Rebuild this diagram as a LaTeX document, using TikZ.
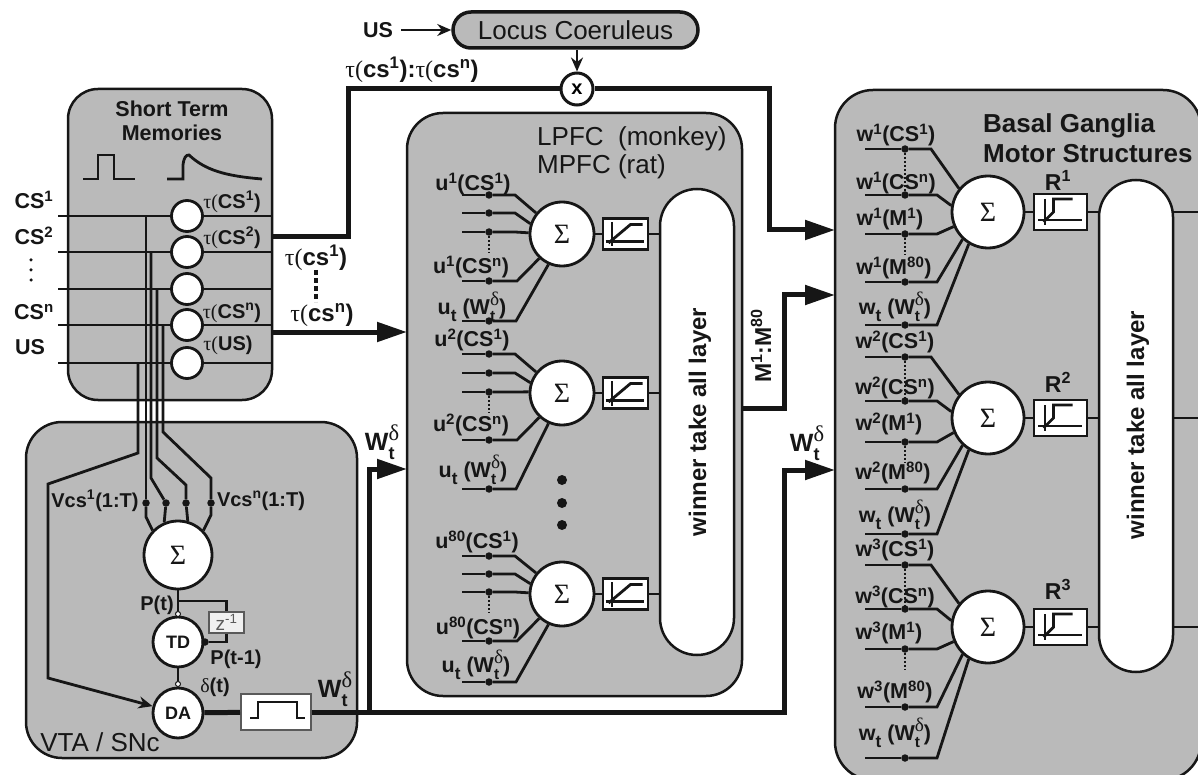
\documentclass[tikz,border=0pt]{standalone}
\usepackage{fontspec}
\setmainfont{Liberation Sans}
\newfontfamily\serifgk{Liberation Serif}
\usetikzlibrary{arrows.meta}
\definecolor{area}{RGB}{186, 186, 186}
\definecolor{ink}{RGB}{22, 22, 22}
\definecolor{soft}{RGB}{90, 90, 90}
\newcommand{\sps}[1]{\textsuperscript{#1}}
\newcommand{\gtau}{{\serifgk\mdseries τ(}}
\newcommand{\gdel}{{\serifgk\mdseries δ}}
\newcommand{\subt}{\raisebox{-0.32em}{\scalebox{0.8}{t}}}
\newcommand{\Wtd}{W\rlap{\raisebox{-0.34em}{\scalebox{0.72}{t}}}\raisebox{0.42em}{\scalebox{0.9}{\gdel}}}

\begin{document}
\begin{tikzpicture}[
   x=1pt, y=-1pt,
   region/.style={rectangle, draw=ink, fill=area, line width=2.5, inner sep=0},
   pill/.style={rectangle, draw=ink, fill=white, line width=2.5, inner sep=0,
                minimum width=74, rounded corners=37},
   sumcirc/.style={circle, draw=ink, fill=white, line width=2.8, inner sep=0,
                   text=ink, font={\fontsize{28}{28}\selectfont\serifgk}},
   smallcirc/.style={circle, draw=ink, fill=white, line width=2.8, inner sep=0,
                     text=ink, font={\fontsize{18}{18}\selectfont\bfseries}},
   rampbox/.style={rectangle, draw=ink, fill=white, line width=2.5, inner sep=0},
   jdot/.style={circle, fill=ink, inner sep=0, minimum size=7.5},
   odot/.style={circle, draw=ink, fill=white, line width=1, inner sep=0, minimum size=5},
   bigdot/.style={circle, fill=ink, inner sep=0, minimum size=10},
   wire/.style={draw=ink, line width=2.8},
   dotwire/.style={draw=ink, line width=2, dash pattern=on 2pt off 2pt},
   thick wire/.style={draw=ink, line width=5},
   boldlab/.style={inner sep=0, text=ink, font={\fontsize{21.5}{21.5}\selectfont\bfseries}},
   taulab/.style={inner sep=0, text=ink, font={\fontsize{20}{20}\selectfont\bfseries}},
   cslab/.style={inner sep=0, text=ink, font={\fontsize{24}{24}\selectfont\bfseries}},
   plainlab/.style={inner sep=0, text=ink, align=left, font={\fontsize{26}{28}\selectfont}},
   toplab/.style={inner sep=0, text=ink, font={\fontsize{26}{26}\selectfont\bfseries}},
   widelab/.style={inner sep=0, text=ink, font={\fontsize{25}{25}\selectfont\bfseries}},
   wtalab/.style={inner sep=0, text=ink, rotate=90, font={\fontsize{24}{24}\selectfont\bfseries}},
   >={Triangle[length=30pt, width=19pt]}
  ]
  \useasboundingbox (0, 0) rectangle (1198, 775);
  \clip (0, 0) rectangle (1198, 775);

  % Regions
  \node (STM) at (170, 244.5) [region, minimum width=204, minimum height=311, rounded corners=30] {};
  \node (VTA) at (191.5, 590) [region, minimum width=331, minimum height=336, rounded corners=36] {};
  \node (LPFC) at (574.5, 404.5) [region, minimum width=335, minimum height=583, rounded corners=36] {};
  \node (BG) at (1018, 435) [region, minimum width=366, minimum height=690, rounded corners=38] {};
  \node (LW) at (697, 422) [pill, minimum height=466] {};
  \node (BW) at (1136, 426) [pill, minimum height=492] {};
  \node (LT) at (700, 422) [wtalab] {winner take all layer};
  \node (BT) at (1138, 425) [wtalab] {winner take all layer};

  % Locus Coeruleus
  \node (LC) at (575.5, 30) [rectangle, draw=ink, fill=area, line width=3.5, inner sep=0, minimum width=245,
                             minimum height=36, rounded corners=18, text=ink,
                             font={\fontsize{26}{26}\selectfont}] {Locus Coeruleus};
  \node (US0) at (378, 30) [boldlab] {US};
  \draw[wire, -{Stealth[length=14pt, width=12pt]}, shorten <=8] (US0) -- (LC);
  \node (X) at (577, 89) [circle, draw=ink, fill=white, line width=3, inner sep=0, minimum size=32,
                          font={\fontsize{20}{20}\selectfont\bfseries}] {x};
  \draw[wire, -{Stealth[length=14pt, width=12pt]}] (LC.south -| X) -- (X);
  \node (TT) at (412, 70) [cslab] {\gtau cs\sps{1}):\gtau cs\sps{n})};

  % Short term memories
  \node (ST1) at (172, 109) [boldlab] {Short Term};
  \node (ST2) at (172, 133) [boldlab] {Memories};
  \draw[wire] (83, 179) -- (98, 179) -- (98, 155) -- (114, 155) -- (114, 179) -- (135, 179);
  \draw[wire] (167, 179) -- (183, 179) -- (183, 165) .. controls (184, 157) and (186, 155) .. (189, 155)
        .. controls (205, 170) and (225, 176) .. (262, 179);

  \foreach \n/\Y in {1/216, 2/252, 3/289, 4/325, 5/363} {
    \coordinate (SI\n) at (58, \Y);
    \coordinate (SO\n) at (272, \Y);
    \node (SC\n) at (187, \Y) [smallcirc, minimum size=31] {};
    \draw[wire] (SI\n) -- (SC\n);
    \draw[wire] (SC\n) -- (SO\n);
  }
  \foreach \N/\X/\Y/\T in {CL1/34/200/{CS\sps{1}}, CL2/34/236/{CS\sps{2}}, CL4/34/312/{CS\sps{n}}, CL5/30/347/{US}} {
    \node (\N) at (\X, \Y) [boldlab] {\T};
  }
  \foreach \N/\Y in {CD1/260, CD2/270, CD3/280} {
    \node (\N) at (31, \Y) [circle, fill=ink, inner sep=0, minimum size=3.5] {};
  }
  \foreach \N/\X/\Y/\T in {TL1/232/202/{\gtau CS\sps{1})}, TL2/232/238/{\gtau CS\sps{2})},
                           TL4/232/313/{\gtau CS\sps{n})}, TL5/228/345/{\gtau US)}} {
    \node (\N) at (\X, \Y) [taulab] {\T};
  }

  % Taps into the VTA
  \node (VS) at (178, 555) [sumcirc, minimum size=68] {Σ};
  \node (TD) at (178, 642) [smallcirc, minimum size=50] {TD};
  \node (DA) at (178, 713) [smallcirc, minimum size=50] {DA};
  \foreach \n/\X in {1/146, 2/166, 3/186, 4/211} {
    \node (VD\n) at (\X, 503) [jdot] {};
  }
  \draw[wire, -{Stealth[length=14pt, width=12pt]}] (138, 363) -- (138, 453) -- (48, 484) -- (48, 678) -- (DA);
  \draw[wire] (146, 216) -- (VD1);
  \draw[wire] (VD1) -- (146, 517) -- (VS.136);
  \draw[wire] (151, 252) -- (151, 478) -- (VD2);
  \draw[wire] (VD2) -- (VS.113);
  \draw[wire] (157, 289) -- (157, 458) -- (186, 485) -- (VD3);
  \draw[wire] (VD3) -- (VS.74);
  \draw[wire] (163, 325) -- (163, 432) -- (211, 478) -- (VD4);
  \draw[wire] (VD4) -- (211, 515) -- (VS.44);
  \node (VL1) at (95, 501) [taulab] {Vcs\sps{1}(1:T)};
  \node (VL2) at (261, 501) [taulab] {Vcs\sps{n}(1:T)};

  \node (ZB) at (226.5, 622.5) [rectangle, draw=soft, fill=white!94!black, line width=1.5, inner sep=0,
                                minimum width=35, minimum height=21, text=soft,
                                font={\fontsize{19}{19}\selectfont}] {z\sps{-1}};
  \coordinate (PT) at (178, 601);
  \node (OD1) at (178, 614) [odot] {};
  \node (OD2) at (178, 684) [odot] {};
  \node (PD) at (205, 642) [jdot] {};
  \draw[wire] (VS) -- (OD1);
  \draw[wire] (OD1) -- (TD);
  \draw[wire] (PT) -- (ZB.north |- PT) -- (ZB);
  \draw[wire] (ZB) -- (ZB.south |- PD) -- (PD);
  \draw[wire] (TD) -- (OD2);
  \draw[wire] (OD2) -- (DA);
  \node (PL1) at (157, 605) [taulab] {P(t)};
  \node (PL2) at (236, 659) [taulab] {P(t-1)};
  \node (DL) at (215, 687) [taulab] {\gdel(t)};
  \node (VT) at (100, 742) [plainlab] {VTA / SNc};

  % Output pulse
  \node (PB) at (276, 712) [rectangle, draw=soft, fill=white, line width=2, inner sep=0, minimum width=70, minimum height=36] {};
  \draw[wire] (250, 718) -- (258, 718) -- (258, 702) -- (297, 702) -- (297, 718) -- (305, 718);
  \draw[thick wire] (DA) -- (PB);
  \coordinate (BGc) at (835, 470);
  \coordinate (LPb) at (407, 469);
  \draw[thick wire, ->] (PB) -- (784, 712) -- (784, 470) -- (BGc);
  \draw[thick wire, ->] (369, 712) -- (369, 469) -- (LPb);
  \node (WL1) at (335, 689) [widelab] {\Wtd};
  \node (WL2) at (382, 442) [widelab] {\Wtd};
  \node (WL3) at (807, 443) [widelab] {\Wtd};

  % Between the regions
  \coordinate (T1) at (272, 237);
  \coordinate (T2) at (272, 332);
  \coordinate (LPa) at (407, 332);
  \coordinate (BGa) at (835, 230);
  \coordinate (BGb) at (835, 295);
  \coordinate (LPo) at (742, 408);
  \draw[thick wire] (T1) -- (348, 237) -- (348, 89) -- (X);
  \draw[thick wire, ->] (X) -- (769, 89) -- (769, 230) -- (BGa);
  \draw[thick wire, ->] (T2) -- (LPa);
  \draw[thick wire, ->] (LPo) -- (784, 408) -- (784, 295) -- (BGb);
  \node (TA) at (316, 258) [cslab] {\gtau cs\sps{1})};
  \node (TB) at (322, 315) [cslab] {\gtau cs\sps{n})};
  \coordinate (DSa) at (316, 270);
  \coordinate (DSb) at (316, 302);
  \draw[draw=ink, line width=4, dash pattern=on 5pt off 3pt] (DSa) -- (DSb);
  \node (MM) at (761, 346) [boldlab, rotate=90, font={\fontsize{23}{23}\selectfont\bfseries}] {M\sps{1}:M\sps{80}};

  % LPFC units
  \node (LN) at (537, 153) [plainlab, anchor=west] {LPFC\ \ (monkey)\\MPFC (rat)};
  \foreach \n/\Y/\Ra/\Rb/\Rc/\Rd/\Re in {1/234/195/213/232/281/321, 2/393/354/373/392/440/489, 3/594/556/574/592/641/682} {
    \node (LS\n) at (562, \Y) [sumcirc, minimum size=64] {Σ};
    \node (LB\n) at (625.5, \Y) [rampbox, minimum width=45, minimum height=31] {};
    \draw[wire] (LS\n) -- (LB\n);
    \draw[wire] (LB\n) -- (LW.west |- LB\n);
    \begin{scope}[shift={(625.5, \Y)}]
      \draw[wire] (-20, 7.5) -- (18, 7.5);
      \draw[wire] (-13.5, -12) -- (-13.5, 12.5);
      \draw[wire] (-17, 9) -- (5, -9.5) -- (17, -9.5);
    \end{scope}
    \foreach \i/\R/\K/\A in {1/\Ra/515/141, 2/\Rb/515/162, 3/\Rc/515/178, 4/\Rd/517/227, 5/\Re/516/246} {
      \coordinate (LI\n\i) at (462, \R);
      \node (LD\n\i) at (489, \R) [jdot] {};
      \draw[wire] (LI\n\i) -- (LD\n\i);
      \draw[wire] (LD\n\i) -- (\K, \R) -- (LS\n.\A);
    }
    \draw[dotwire] (LD\n3) -- ++(0, 21);
  }
  \foreach \N/\X/\Y/\T in {UA1/473/184/{u\sps{1}(CS\sps{1})}, UA4/471/267/{u\sps{1}(CS\sps{n})},
                           UA5/472/307/{u\subt\ (\Wtd)}, UB1/472/340/{u\sps{2}(CS\sps{1})},
                           UB4/471/425/{u\sps{2}(CS\sps{n})}, UB5/473/470/{u\subt\ (\Wtd)},
                           UC1/477/542/{u\sps{80}(CS\sps{1})}, UC4/478/628/{u\sps{80}(CS\sps{n})},
                           UC5/476/665/{u\subt\ (\Wtd)}} {
    \node (\N) at (\X, \Y) [boldlab] {\T};
  }
  \foreach \N/\Y in {BD1/480, BD2/503, BD3/525} {
    \node (\N) at (562, \Y) [bigdot] {};
  }

  % Basal ganglia units
  \node (BN1) at (983, 126) [toplab, anchor=west] {Basal Ganglia};
  \node (BN2) at (983, 154) [toplab, anchor=west] {Motor Structures};
  \foreach \n/\Y/\Ra/\Rb/\Rc/\Rd/\Re/\L in {1/212/149/195/234/282/325/180, 2/418/357/401/442/489/534/382, 3/627/565/609/649/707/758/589} {
    \node (BS\n) at (988, \Y) [sumcirc, minimum size=72] {Σ};
    \node (BB\n) at (1060.5, \Y) [rampbox, minimum width=53, minimum height=36] {};
    \node (RL\n) at (1058, \L) [boldlab, font={\fontsize{23}{23}\selectfont\bfseries}] {R\sps{\n}};
    \draw[wire] (BS\n) -- (BB\n);
    \draw[wire] (BB\n) -- (BW.west |- BB\n);
    \draw[wire] (BW.east |- BB\n) -- ++(30, 0);
    \begin{scope}[shift={(1060.5, \Y)}]
      \draw[wire] (-22.5, 8) -- (21.5, 8);
      \draw[wire] (-15.5, -13) -- (-15.5, 13);
      \draw[wire] (-17, 10) -- (-7, 0) -- (-7, -13) -- (12, -13);
    \end{scope}
    \foreach \i/\R/\K/\A in {1/\Ra/931/141, 2/\Rb/937/170, 3/\Rc/937/203, 4/\Rd/937/227, 5/\Re/937/239} {
      \coordinate (BI\n\i) at (865, \R);
      \node (BD\n\i) at (905, \R) [jdot] {};
      \draw[wire] (BI\n\i) -- (BD\n\i);
      \draw[wire] (BD\n\i) -- (\K, \R) -- (BS\n.\A);
    }
    \draw[dotwire] (BD\n1) -- (BD\n2);
    \draw[dotwire] (BD\n3) -- ++(0, 20);
  }
  \foreach \N/\X/\Y/\T in {WA1/896/135/{w\sps{1}(CS\sps{1})}, WA2/896/183/{w\sps{1}(CS\sps{n})},
                           WA3/890/219/{w\sps{1}(M\sps{1})}, WA4/894/268/{w\sps{1}(M\sps{80})},
                           WA5/895/307/{w\subt\ (\Wtd)},
                           WB1/895/342/{w\sps{2}(CS\sps{1})}, WB2/895/388/{w\sps{2}(CS\sps{n})},
                           WB3/889/424/{w\sps{2}(M\sps{1})}, WB4/893/473/{w\sps{2}(M\sps{80})},
                           WB5/895/515/{w\subt\ (\Wtd)},
                           WC1/895/550/{w\sps{3}(CS\sps{1})}, WC2/895/597/{w\sps{3}(CS\sps{n})},
                           WC3/889/633/{w\sps{3}(M\sps{1})}, WC4/895/692/{w\sps{3}(M\sps{80})},
                           WC5/895/733/{w\subt\ (\Wtd)}} {
    \node (\N) at (\X, \Y) [boldlab] {\T};
  }

\end{tikzpicture}
\end{document}
